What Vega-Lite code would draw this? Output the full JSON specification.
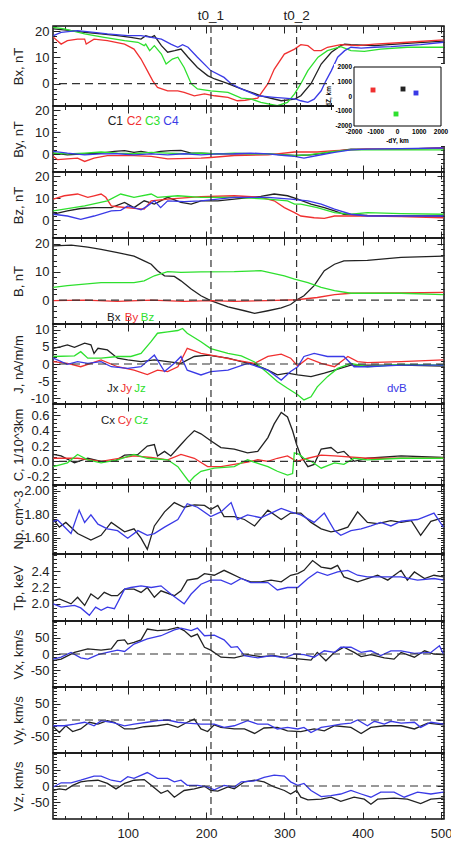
{
"$schema":"https://vega.github.io/schema/vega-lite/v6.json",
"background":"white",
"padding":{"left":11,"top":8,"right":0,"bottom":0},
"spacing":0,
"bounds":"flush",
"config":{
 "view":{"stroke":"#111","strokeWidth":1.5},
 "axis":{"domain":false,"grid":false,"tickColor":"#222","tickWidth":1,"labelFont":"Liberation Sans","labelFontSize":13,"labelColor":"#222","titleFont":"Liberation Sans","titleFontSize":13,"titleFontWeight":"normal","titleColor":"#222","labelOverlap":false,"labelFlush":false},
 "line":{"strokeWidth":1.3}
},
"datasets":{
"vl":[{"x":206.3},{"x":315.6}],
"txt":[
 {"p":"By","s":"C1","t":"C1","x":74.4,"y":15.2},{"p":"By","s":"C2","t":"C2","x":98.7,"y":15.2},{"p":"By","s":"C3","t":"C3","x":122,"y":15.2},{"p":"By","s":"C4","t":"C4","x":145.4,"y":15.2},
 {"p":"B","s":"Bx","t":"Bx","x":73.5,"y":-6.5},{"p":"B","s":"By","t":"By","x":96.2,"y":-6.5},{"p":"B","s":"Bz","t":"Bz","x":116.6,"y":-6.5},
 {"p":"J","s":"Jx","t":"Jx","x":73.5,"y":-7.4},{"p":"J","s":"Jy","t":"Jy","x":90.8,"y":-7.4},{"p":"J","s":"Jz","t":"Jz","x":108.2,"y":-7.4},{"p":"J","s":"dvB","t":"dvB","x":431,"y":-7.4},
 {"p":"C","s":"Cx","t":"Cx","x":65.9,"y":0.53},{"p":"C","s":"Cy","t":"Cy","x":87.2,"y":0.53},{"p":"C","s":"Cz","t":"Cz","x":108.4,"y":0.53}
],
"inset":[{"s":"C1","x":253,"y":508},{"s":"C2","x":-1126,"y":441},{"s":"C3","x":-69,"y":-1186},{"s":"C4","x":850,"y":237}],
"insetlab":[
 {"k":"x","t":"-2000","x":-2000,"y":-2000},{"k":"x","t":"-1000","x":-1000,"y":-2000},{"k":"x","t":"0","x":0,"y":-2000},{"k":"x","t":"1000","x":1000,"y":-2000},{"k":"x","t":"2000","x":2000,"y":-2000},
 {"k":"y","t":"2000","x":-2000,"y":2000},{"k":"y","t":"1000","x":-2000,"y":1000},{"k":"y","t":"0","x":-2000,"y":0},{"k":"y","t":"-1000","x":-2000,"y":-1000},{"k":"y","t":"-2000","x":-2000,"y":-2000},
 {"k":"xt","t":"-dY, km","x":0,"y":-2000},
 {"k":"yt","t":"dZ, km","x":-3150,"y":0}
],
"bx":[
{"s":"C1","x":5,"y":20.9},{"s":"C1","x":28,"y":20.2},{"s":"C1","x":45,"y":19.6},{"s":"C1","x":66,"y":19},{"s":"C1","x":87,"y":18.3},{"s":"C1","x":104,"y":17.7},{"s":"C1","x":117,"y":17},{"s":"C1","x":123,"y":18.3},{"s":"C1","x":130,"y":17.7},{"s":"C1","x":134,"y":18.3},{"s":"C1","x":143,"y":14.5},{"s":"C1","x":151,"y":12},{"s":"C1","x":160,"y":12.6},{"s":"C1","x":168,"y":13.2},{"s":"C1","x":177,"y":10.1},{"s":"C1","x":189,"y":6.2},{"s":"C1","x":202,"y":3.1},{"s":"C1","x":211,"y":1.8},{"s":"C1","x":228,"y":0},{"s":"C1","x":240,"y":-1.4},{"s":"C1","x":255,"y":-3},{"s":"C1","x":270,"y":-4.6},{"s":"C1","x":296,"y":-6.5},{"s":"C1","x":313,"y":-5.9},{"s":"C1","x":321,"y":-4.6},{"s":"C1","x":334,"y":0},{"s":"C1","x":347,"y":7.5},{"s":"C1","x":360,"y":12},{"s":"C1","x":372,"y":14.5},{"s":"C1","x":377,"y":15.1},{"s":"C1","x":385,"y":14.9},{"s":"C1","x":415,"y":14.5},{"s":"C1","x":457,"y":15.4},{"s":"C1","x":503,"y":16.2},
{"s":"C2","x":5,"y":17.7},{"s":"C2","x":15,"y":15.1},{"s":"C2","x":23,"y":16.4},{"s":"C2","x":36,"y":17},{"s":"C2","x":45,"y":17},{"s":"C2","x":47,"y":15.1},{"s":"C2","x":57,"y":17},{"s":"C2","x":74,"y":16.4},{"s":"C2","x":96,"y":15.1},{"s":"C2","x":108,"y":13.2},{"s":"C2","x":117,"y":9.4},{"s":"C2","x":125,"y":5},{"s":"C2","x":132,"y":1.1},{"s":"C2","x":138,"y":-1.4},{"s":"C2","x":151,"y":-2.7},{"s":"C2","x":164,"y":-2.7},{"s":"C2","x":172,"y":-3.3},{"s":"C2","x":185,"y":-4.6},{"s":"C2","x":198,"y":-3.9},{"s":"C2","x":211,"y":-4.6},{"s":"C2","x":228,"y":-5.2},{"s":"C2","x":240,"y":-6.5},{"s":"C2","x":250,"y":-6.3},{"s":"C2","x":266,"y":-5.5},{"s":"C2","x":279,"y":0},{"s":"C2","x":287,"y":5.5},{"s":"C2","x":300,"y":11.3},{"s":"C2","x":313,"y":13.2},{"s":"C2","x":321,"y":14.9},{"s":"C2","x":330,"y":14.5},{"s":"C2","x":338,"y":12.6},{"s":"C2","x":347,"y":12.6},{"s":"C2","x":355,"y":13.9},{"s":"C2","x":372,"y":14.9},{"s":"C2","x":394,"y":14.5},{"s":"C2","x":415,"y":15.1},{"s":"C2","x":457,"y":15.8},{"s":"C2","x":503,"y":16.7},
{"s":"C3","x":5,"y":21.5},{"s":"C3","x":19,"y":20.9},{"s":"C3","x":45,"y":19},{"s":"C3","x":70,"y":17.7},{"s":"C3","x":96,"y":16.4},{"s":"C3","x":113,"y":15.8},{"s":"C3","x":121,"y":14.5},{"s":"C3","x":123,"y":15.1},{"s":"C3","x":128,"y":12.6},{"s":"C3","x":134,"y":14.5},{"s":"C3","x":143,"y":11.3},{"s":"C3","x":149,"y":7.5},{"s":"C3","x":157,"y":9.4},{"s":"C3","x":164,"y":10.1},{"s":"C3","x":172,"y":6.2},{"s":"C3","x":181,"y":0},{"s":"C3","x":189,"y":-2},{"s":"C3","x":206,"y":-2.7},{"s":"C3","x":228,"y":-3.3},{"s":"C3","x":245,"y":-5.5},{"s":"C3","x":257,"y":-5.8},{"s":"C3","x":270,"y":-7.1},{"s":"C3","x":291,"y":-8.4},{"s":"C3","x":304,"y":-7.1},{"s":"C3","x":313,"y":-3.9},{"s":"C3","x":321,"y":0},{"s":"C3","x":330,"y":5},{"s":"C3","x":343,"y":10.1},{"s":"C3","x":355,"y":12.6},{"s":"C3","x":372,"y":14.1},{"s":"C3","x":385,"y":12.6},{"s":"C3","x":402,"y":12.3},{"s":"C3","x":423,"y":13.2},{"s":"C3","x":457,"y":13.9},{"s":"C3","x":503,"y":13.9},
{"s":"C4","x":5,"y":18.3},{"s":"C4","x":15,"y":19.6},{"s":"C4","x":36,"y":20.2},{"s":"C4","x":57,"y":19.6},{"s":"C4","x":74,"y":19},{"s":"C4","x":100,"y":18.3},{"s":"C4","x":117,"y":18.3},{"s":"C4","x":130,"y":17.7},{"s":"C4","x":143,"y":17},{"s":"C4","x":155,"y":15.1},{"s":"C4","x":164,"y":13.9},{"s":"C4","x":170,"y":14.9},{"s":"C4","x":177,"y":13.9},{"s":"C4","x":189,"y":10.1},{"s":"C4","x":206,"y":5},{"s":"C4","x":223,"y":2.4},{"s":"C4","x":232,"y":0},{"s":"C4","x":245,"y":-2},{"s":"C4","x":266,"y":-4.6},{"s":"C4","x":287,"y":-5.2},{"s":"C4","x":300,"y":-5.5},{"s":"C4","x":315,"y":-5.9},{"s":"C4","x":321,"y":-6.5},{"s":"C4","x":330,"y":-7.1},{"s":"C4","x":338,"y":-5.9},{"s":"C4","x":347,"y":-2.7},{"s":"C4","x":353,"y":1.1},{"s":"C4","x":360,"y":5},{"s":"C4","x":368,"y":10.1},{"s":"C4","x":377,"y":12.6},{"s":"C4","x":385,"y":13.9},{"s":"C4","x":398,"y":13.6},{"s":"C4","x":415,"y":13.9},{"s":"C4","x":436,"y":14.1},{"s":"C4","x":474,"y":14.9},{"s":"C4","x":503,"y":15.8}
],
"by":[
{"s":"C1","x":5,"y":0.6},{"s":"C1","x":23,"y":-0.2},{"s":"C1","x":45,"y":0.2},{"s":"C1","x":66,"y":0.6},{"s":"C1","x":83,"y":1.4},{"s":"C1","x":96,"y":1.7},{"s":"C1","x":108,"y":0.9},{"s":"C1","x":117,"y":1.4},{"s":"C1","x":130,"y":0.6},{"s":"C1","x":142,"y":1.4},{"s":"C1","x":155,"y":1.7},{"s":"C1","x":168,"y":1.8},{"s":"C1","x":181,"y":0.6},{"s":"C1","x":193.5,"y":0.6},{"s":"C1","x":215,"y":0.2},{"s":"C1","x":236,"y":0.2},{"s":"C1","x":279,"y":0.2},{"s":"C1","x":300,"y":-0.2},{"s":"C1","x":313,"y":-0.5},{"s":"C1","x":334,"y":-0.2},{"s":"C1","x":351,"y":0.6},{"s":"C1","x":364,"y":1.4},{"s":"C1","x":385,"y":2.4},{"s":"C1","x":449,"y":2.4},{"s":"C1","x":503,"y":2.9},
{"s":"C2","x":5,"y":-0.9},{"s":"C2","x":10.5,"y":-2.4},{"s":"C2","x":23,"y":-2},{"s":"C2","x":36,"y":-1.7},{"s":"C2","x":45,"y":-3.2},{"s":"C2","x":57,"y":-1.7},{"s":"C2","x":74,"y":-0.6},{"s":"C2","x":108,"y":-0.6},{"s":"C2","x":130,"y":-0.9},{"s":"C2","x":151,"y":-2},{"s":"C2","x":193.5,"y":-1.7},{"s":"C2","x":206,"y":-1.4},{"s":"C2","x":236,"y":-0.5},{"s":"C2","x":279,"y":-0.2},{"s":"C2","x":313,"y":1.1},{"s":"C2","x":342,"y":1.1},{"s":"C2","x":364,"y":1.7},{"s":"C2","x":385,"y":2.1},{"s":"C2","x":406,"y":2.4},{"s":"C2","x":449,"y":2.4},{"s":"C2","x":503,"y":2.9},
{"s":"C3","x":5,"y":0.6},{"s":"C3","x":23,"y":0.2},{"s":"C3","x":45,"y":0.6},{"s":"C3","x":66,"y":1.1},{"s":"C3","x":87,"y":0.6},{"s":"C3","x":108,"y":0.3},{"s":"C3","x":130,"y":0.9},{"s":"C3","x":151,"y":0.6},{"s":"C3","x":172,"y":0.3},{"s":"C3","x":193.5,"y":0.6},{"s":"C3","x":215,"y":0.2},{"s":"C3","x":236,"y":0.6},{"s":"C3","x":257,"y":0.3},{"s":"C3","x":279,"y":0.2},{"s":"C3","x":300,"y":-0.2},{"s":"C3","x":313,"y":-0.6},{"s":"C3","x":330,"y":-0.2},{"s":"C3","x":347,"y":0.6},{"s":"C3","x":364,"y":1.4},{"s":"C3","x":385,"y":2.1},{"s":"C3","x":406,"y":2.1},{"s":"C3","x":449,"y":2.1},{"s":"C3","x":503,"y":2.1},
{"s":"C4","x":5,"y":1.4},{"s":"C4","x":23,"y":0.6},{"s":"C4","x":45,"y":-0.2},{"s":"C4","x":66,"y":0.2},{"s":"C4","x":87,"y":0.3},{"s":"C4","x":108,"y":-0.2},{"s":"C4","x":130,"y":0.2},{"s":"C4","x":151,"y":-0.2},{"s":"C4","x":172,"y":0.3},{"s":"C4","x":193.5,"y":-0.2},{"s":"C4","x":215,"y":0.2},{"s":"C4","x":236,"y":0.3},{"s":"C4","x":257,"y":0.6},{"s":"C4","x":279,"y":0.2},{"s":"C4","x":300,"y":-0.5},{"s":"C4","x":313,"y":-0.9},{"s":"C4","x":325,"y":-1.7},{"s":"C4","x":342,"y":-0.5},{"s":"C4","x":364,"y":0.9},{"s":"C4","x":385,"y":2.1},{"s":"C4","x":406,"y":2.4},{"s":"C4","x":449,"y":2.6},{"s":"C4","x":503,"y":2.9}
],
"bz":[
{"s":"C1","x":5,"y":2.8},{"s":"C1","x":23,"y":4.3},{"s":"C1","x":40,"y":5.4},{"s":"C1","x":57,"y":5.8},{"s":"C1","x":79,"y":5.8},{"s":"C1","x":96,"y":8.2},{"s":"C1","x":108,"y":5.8},{"s":"C1","x":121,"y":8.9},{"s":"C1","x":134,"y":7.4},{"s":"C1","x":151,"y":10.5},{"s":"C1","x":168,"y":8.2},{"s":"C1","x":181,"y":7.4},{"s":"C1","x":193.5,"y":8.9},{"s":"C1","x":215,"y":8.9},{"s":"C1","x":236,"y":9.7},{"s":"C1","x":270,"y":10.9},{"s":"C1","x":287,"y":12},{"s":"C1","x":304,"y":11.2},{"s":"C1","x":317,"y":9.7},{"s":"C1","x":334,"y":7.4},{"s":"C1","x":351,"y":5.8},{"s":"C1","x":364,"y":4.3},{"s":"C1","x":376,"y":2.8},{"s":"C1","x":406,"y":2.3},{"s":"C1","x":449,"y":2},{"s":"C1","x":503,"y":2},
{"s":"C2","x":5,"y":9.7},{"s":"C2","x":19,"y":11.2},{"s":"C2","x":36,"y":12},{"s":"C2","x":49,"y":10.5},{"s":"C2","x":57,"y":11.2},{"s":"C2","x":66,"y":12},{"s":"C2","x":72,"y":10.5},{"s":"C2","x":79,"y":6.6},{"s":"C2","x":87,"y":6.2},{"s":"C2","x":108,"y":5.5},{"s":"C2","x":121,"y":5.1},{"s":"C2","x":130,"y":8.9},{"s":"C2","x":151,"y":9.7},{"s":"C2","x":193.5,"y":10.8},{"s":"C2","x":236,"y":11.2},{"s":"C2","x":270,"y":10.5},{"s":"C2","x":287,"y":8.9},{"s":"C2","x":300,"y":5.8},{"s":"C2","x":313,"y":3.5},{"s":"C2","x":321,"y":2},{"s":"C2","x":338,"y":1.2},{"s":"C2","x":351,"y":0.9},{"s":"C2","x":364,"y":2},{"s":"C2","x":406,"y":2},{"s":"C2","x":449,"y":1.7},{"s":"C2","x":503,"y":1.2},
{"s":"C3","x":5,"y":4.3},{"s":"C3","x":45,"y":6.6},{"s":"C3","x":74,"y":8.9},{"s":"C3","x":91,"y":12},{"s":"C3","x":108,"y":10.5},{"s":"C3","x":130,"y":12},{"s":"C3","x":138,"y":10.5},{"s":"C3","x":164,"y":11.2},{"s":"C3","x":193.5,"y":10.5},{"s":"C3","x":236,"y":10.5},{"s":"C3","x":279,"y":9.7},{"s":"C3","x":304,"y":8.9},{"s":"C3","x":313,"y":7.4},{"s":"C3","x":321,"y":7.4},{"s":"C3","x":342,"y":5.8},{"s":"C3","x":364,"y":3.5},{"s":"C3","x":385,"y":2.8},{"s":"C3","x":406,"y":3.5},{"s":"C3","x":449,"y":3.1},{"s":"C3","x":503,"y":2.8},
{"s":"C4","x":5,"y":2.8},{"s":"C4","x":23,"y":2},{"s":"C4","x":40,"y":0.5},{"s":"C4","x":57,"y":2},{"s":"C4","x":79,"y":4.3},{"s":"C4","x":91,"y":4.6},{"s":"C4","x":100,"y":6.6},{"s":"C4","x":117,"y":4.8},{"s":"C4","x":125,"y":6.5},{"s":"C4","x":134,"y":8.9},{"s":"C4","x":142,"y":5.8},{"s":"C4","x":151,"y":8.9},{"s":"C4","x":172,"y":8.5},{"s":"C4","x":193.5,"y":8.9},{"s":"C4","x":236,"y":10.5},{"s":"C4","x":279,"y":10.5},{"s":"C4","x":308,"y":9.7},{"s":"C4","x":330,"y":8.9},{"s":"C4","x":347,"y":7.4},{"s":"C4","x":364,"y":5.1},{"s":"C4","x":385,"y":2.8},{"s":"C4","x":406,"y":2},{"s":"C4","x":503,"y":2}
],
"bb":[
{"s":"Bx","x":5,"y":19.2},{"s":"Bx","x":28,"y":19.5},{"s":"Bx","x":49,"y":18.8},{"s":"Bx","x":66,"y":18},{"s":"Bx","x":87,"y":16.8},{"s":"Bx","x":108,"y":15.6},{"s":"Bx","x":121,"y":13.9},{"s":"Bx","x":130,"y":12.7},{"s":"Bx","x":138,"y":10.4},{"s":"Bx","x":147,"y":8.6},{"s":"Bx","x":159.5,"y":8.4},{"s":"Bx","x":168,"y":6.8},{"s":"Bx","x":181,"y":3.9},{"s":"Bx","x":193.5,"y":1.5},{"s":"Bx","x":206,"y":-0.2},{"s":"Bx","x":228,"y":-2.4},{"s":"Bx","x":249,"y":-3.8},{"s":"Bx","x":262,"y":-4.7},{"s":"Bx","x":279,"y":-3.8},{"s":"Bx","x":296,"y":-2.8},{"s":"Bx","x":308,"y":-1.6},{"s":"Bx","x":315.6,"y":0},{"s":"Bx","x":325,"y":1.5},{"s":"Bx","x":338,"y":5.1},{"s":"Bx","x":351,"y":10.4},{"s":"Bx","x":364,"y":12.7},{"s":"Bx","x":376,"y":13.9},{"s":"Bx","x":406,"y":14.1},{"s":"Bx","x":449,"y":15.1},{"s":"Bx","x":503,"y":15.6},
{"s":"By","x":5,"y":-0.2},{"s":"By","x":45,"y":0},{"s":"By","x":87,"y":-0.5},{"s":"By","x":130,"y":0},{"s":"By","x":172,"y":-0.5},{"s":"By","x":206,"y":-0.2},{"s":"By","x":236,"y":-0.5},{"s":"By","x":279,"y":-0.2},{"s":"By","x":315.6,"y":0.1},{"s":"By","x":342,"y":0.9},{"s":"By","x":364,"y":1.9},{"s":"By","x":385,"y":2.4},{"s":"By","x":449,"y":2.5},{"s":"By","x":503,"y":2.7},
{"s":"Bz","x":5,"y":4.5},{"s":"Bz","x":23,"y":5.1},{"s":"Bz","x":66,"y":6.2},{"s":"Bz","x":108,"y":6.2},{"s":"Bz","x":121,"y":6.8},{"s":"Bz","x":134,"y":8.6},{"s":"Bz","x":151,"y":10.1},{"s":"Bz","x":168,"y":9.8},{"s":"Bz","x":193.5,"y":10},{"s":"Bz","x":236,"y":10.1},{"s":"Bz","x":270,"y":10.4},{"s":"Bz","x":300,"y":8.6},{"s":"Bz","x":313,"y":7.4},{"s":"Bz","x":330,"y":6.2},{"s":"Bz","x":347,"y":4.5},{"s":"Bz","x":364,"y":3.3},{"s":"Bz","x":385,"y":2.4},{"s":"Bz","x":406,"y":2.4},{"s":"Bz","x":449,"y":2.4},{"s":"Bz","x":503,"y":1.9}
],
"jj":[
{"s":"Jx","x":5,"y":4.6},{"s":"Jx","x":15,"y":5.1},{"s":"Jx","x":23,"y":5.6},{"s":"Jx","x":32,"y":4.9},{"s":"Jx","x":45,"y":6.1},{"s":"Jx","x":53,"y":5.6},{"s":"Jx","x":57,"y":3.1},{"s":"Jx","x":62,"y":4.6},{"s":"Jx","x":74,"y":4.1},{"s":"Jx","x":87,"y":1.7},{"s":"Jx","x":100,"y":1.2},{"s":"Jx","x":117,"y":0.7},{"s":"Jx","x":134,"y":1.2},{"s":"Jx","x":151,"y":0.7},{"s":"Jx","x":168,"y":0.2},{"s":"Jx","x":185,"y":2.2},{"s":"Jx","x":202,"y":2.6},{"s":"Jx","x":228,"y":1.7},{"s":"Jx","x":245,"y":0.7},{"s":"Jx","x":262,"y":-0.1},{"s":"Jx","x":279,"y":-1.8},{"s":"Jx","x":291,"y":-3.2},{"s":"Jx","x":304,"y":-2.7},{"s":"Jx","x":317,"y":-3.2},{"s":"Jx","x":334,"y":-3.7},{"s":"Jx","x":351,"y":-2.7},{"s":"Jx","x":364,"y":-1.8},{"s":"Jx","x":385,"y":-0.3},{"s":"Jx","x":406,"y":-0.3},{"s":"Jx","x":449,"y":-0.3},{"s":"Jx","x":503,"y":-0.6},
{"s":"Jy","x":5,"y":0.7},{"s":"Jy","x":23,"y":0.2},{"s":"Jy","x":40,"y":-0.8},{"s":"Jy","x":66,"y":1.2},{"s":"Jy","x":87,"y":-0.8},{"s":"Jy","x":108,"y":-1.8},{"s":"Jy","x":125,"y":-3.1},{"s":"Jy","x":138,"y":-1.8},{"s":"Jy","x":151,"y":-2.2},{"s":"Jy","x":164,"y":-0.8},{"s":"Jy","x":176,"y":4.6},{"s":"Jy","x":193.5,"y":3.1},{"s":"Jy","x":215,"y":2.2},{"s":"Jy","x":236,"y":1.2},{"s":"Jy","x":262,"y":0.2},{"s":"Jy","x":279,"y":2.2},{"s":"Jy","x":296,"y":2.9},{"s":"Jy","x":308,"y":1.7},{"s":"Jy","x":317,"y":-0.6},{"s":"Jy","x":330,"y":1.7},{"s":"Jy","x":347,"y":0.2},{"s":"Jy","x":364,"y":-0.8},{"s":"Jy","x":381,"y":2.2},{"s":"Jy","x":393.5,"y":0.7},{"s":"Jy","x":406,"y":0.4},{"s":"Jy","x":449,"y":0.7},{"s":"Jy","x":503,"y":1.2},
{"s":"Jz","x":5,"y":2.2},{"s":"Jz","x":32,"y":2.4},{"s":"Jz","x":40,"y":3.6},{"s":"Jz","x":49,"y":1.7},{"s":"Jz","x":66,"y":1.7},{"s":"Jz","x":87,"y":2.2},{"s":"Jz","x":104,"y":2.2},{"s":"Jz","x":117,"y":3.1},{"s":"Jz","x":130,"y":6.6},{"s":"Jz","x":138,"y":9},{"s":"Jz","x":151,"y":9.4},{"s":"Jz","x":164,"y":9.8},{"s":"Jz","x":170,"y":10.4},{"s":"Jz","x":176,"y":9},{"s":"Jz","x":193.5,"y":6.5},{"s":"Jz","x":206,"y":4.5},{"s":"Jz","x":228,"y":3.1},{"s":"Jz","x":245,"y":2.4},{"s":"Jz","x":262,"y":0.6},{"s":"Jz","x":279,"y":-2.7},{"s":"Jz","x":291,"y":-5.1},{"s":"Jz","x":304,"y":-7.1},{"s":"Jz","x":317,"y":-9},{"s":"Jz","x":325,"y":-10.5},{"s":"Jz","x":334,"y":-9.6},{"s":"Jz","x":342,"y":-6.7},{"s":"Jz","x":355,"y":-3.7},{"s":"Jz","x":368,"y":-1.3},{"s":"Jz","x":385,"y":0.2},{"s":"Jz","x":406,"y":-0.8},{"s":"Jz","x":449,"y":-0.1},{"s":"Jz","x":503,"y":-0.3},
{"s":"dvB","x":5,"y":1.7},{"s":"dvB","x":23,"y":-0.1},{"s":"dvB","x":36,"y":0.7},{"s":"dvB","x":49,"y":0.2},{"s":"dvB","x":66,"y":0.7},{"s":"dvB","x":79,"y":-0.8},{"s":"dvB","x":100,"y":-1.3},{"s":"dvB","x":117,"y":-0.8},{"s":"dvB","x":134,"y":2.6},{"s":"dvB","x":147,"y":-2.2},{"s":"dvB","x":159.5,"y":0.2},{"s":"dvB","x":168,"y":2.2},{"s":"dvB","x":176,"y":-1.8},{"s":"dvB","x":193.5,"y":-3.2},{"s":"dvB","x":206,"y":-2.2},{"s":"dvB","x":228,"y":-1.8},{"s":"dvB","x":253,"y":0.2},{"s":"dvB","x":279,"y":-1.8},{"s":"dvB","x":296,"y":-4.7},{"s":"dvB","x":308,"y":-2.2},{"s":"dvB","x":317,"y":-0.8},{"s":"dvB","x":325,"y":2.2},{"s":"dvB","x":338,"y":3.1},{"s":"dvB","x":355,"y":2.2},{"s":"dvB","x":376,"y":2.2},{"s":"dvB","x":389,"y":-0.8},{"s":"dvB","x":406,"y":-0.8},{"s":"dvB","x":449,"y":-0.3},{"s":"dvB","x":503,"y":-0.3}
],
"cc":[
{"s":"Cx","x":5,"y":0.09},{"s":"Cx","x":15,"y":0.07},{"s":"Cx","x":32,"y":-0.02},{"s":"Cx","x":49,"y":0.04},{"s":"Cx","x":66,"y":0},{"s":"Cx","x":83,"y":0},{"s":"Cx","x":96,"y":0.08},{"s":"Cx","x":113,"y":0.09},{"s":"Cx","x":125,"y":0.2},{"s":"Cx","x":134,"y":0.22},{"s":"Cx","x":138,"y":0.07},{"s":"Cx","x":147,"y":0.13},{"s":"Cx","x":155,"y":0.07},{"s":"Cx","x":168,"y":0.22},{"s":"Cx","x":176,"y":0.31},{"s":"Cx","x":185,"y":0.4},{"s":"Cx","x":193.5,"y":0.36},{"s":"Cx","x":206,"y":0.27},{"s":"Cx","x":219,"y":0.18},{"s":"Cx","x":236,"y":0.16},{"s":"Cx","x":253,"y":0.11},{"s":"Cx","x":266,"y":0.13},{"s":"Cx","x":279,"y":0.31},{"s":"Cx","x":287,"y":0.49},{"s":"Cx","x":296,"y":0.64},{"s":"Cx","x":304,"y":0.58},{"s":"Cx","x":310.5,"y":0.4},{"s":"Cx","x":315.6,"y":0.22},{"s":"Cx","x":321,"y":0.07},{"s":"Cx","x":330,"y":-0.07},{"s":"Cx","x":338,"y":-0.04},{"s":"Cx","x":347,"y":0.16},{"s":"Cx","x":359.5,"y":0.18},{"s":"Cx","x":368,"y":0.11},{"s":"Cx","x":376,"y":0.13},{"s":"Cx","x":389,"y":0},{"s":"Cx","x":406,"y":0.04},{"s":"Cx","x":449,"y":0.07},{"s":"Cx","x":503,"y":0.05},
{"s":"Cy","x":5,"y":0.04},{"s":"Cy","x":36,"y":0.04},{"s":"Cy","x":66,"y":0},{"s":"Cy","x":108,"y":0.07},{"s":"Cy","x":130,"y":0.05},{"s":"Cy","x":151,"y":0.02},{"s":"Cy","x":168,"y":0.09},{"s":"Cy","x":185,"y":0.04},{"s":"Cy","x":202,"y":-0.07},{"s":"Cy","x":219,"y":-0.07},{"s":"Cy","x":236,"y":-0.04},{"s":"Cy","x":253,"y":-0.01},{"s":"Cy","x":266,"y":0.02},{"s":"Cy","x":279,"y":0},{"s":"Cy","x":291,"y":0.04},{"s":"Cy","x":304,"y":0.07},{"s":"Cy","x":315.6,"y":0},{"s":"Cy","x":330,"y":0.04},{"s":"Cy","x":347,"y":0.08},{"s":"Cy","x":364,"y":0.07},{"s":"Cy","x":406,"y":0.04},{"s":"Cy","x":503,"y":0.04},
{"s":"Cz","x":5,"y":-0.07},{"s":"Cz","x":23,"y":-0.02},{"s":"Cz","x":36,"y":0.09},{"s":"Cz","x":49,"y":0.02},{"s":"Cz","x":66,"y":-0.02},{"s":"Cz","x":87,"y":0.02},{"s":"Cz","x":108,"y":0.09},{"s":"Cz","x":125,"y":0.04},{"s":"Cz","x":151,"y":0.02},{"s":"Cz","x":164,"y":-0.07},{"s":"Cz","x":172,"y":-0.18},{"s":"Cz","x":178.6,"y":-0.27},{"s":"Cz","x":185,"y":-0.2},{"s":"Cz","x":193.5,"y":-0.13},{"s":"Cz","x":210.5,"y":-0.09},{"s":"Cz","x":236,"y":-0.07},{"s":"Cz","x":253,"y":0.02},{"s":"Cz","x":270,"y":-0.04},{"s":"Cz","x":279,"y":-0.07},{"s":"Cz","x":291,"y":-0.13},{"s":"Cz","x":304,"y":-0.18},{"s":"Cz","x":310.5,"y":-0.16},{"s":"Cz","x":312.7,"y":0.11},{"s":"Cz","x":319,"y":0.09},{"s":"Cz","x":325,"y":0.04},{"s":"Cz","x":334,"y":0},{"s":"Cz","x":347,"y":-0.09},{"s":"Cz","x":364,"y":-0.02},{"s":"Cz","x":376,"y":-0.04},{"s":"Cz","x":389,"y":0.04},{"s":"Cz","x":406,"y":0.02},{"s":"Cz","x":449,"y":0.04},{"s":"Cz","x":503,"y":0.04}
],
"np":[
{"s":"C1","x":5,"y":1.755},{"s":"C1","x":12.7,"y":1.69},{"s":"C1","x":21,"y":1.73},{"s":"C1","x":36,"y":1.635},{"s":"C1","x":53,"y":1.58},{"s":"C1","x":66,"y":1.62},{"s":"C1","x":79,"y":1.73},{"s":"C1","x":96,"y":1.65},{"s":"C1","x":108,"y":1.675},{"s":"C1","x":117,"y":1.595},{"s":"C1","x":125,"y":1.5},{"s":"C1","x":134,"y":1.7},{"s":"C1","x":147,"y":1.82},{"s":"C1","x":159.5,"y":1.9},{"s":"C1","x":172,"y":1.86},{"s":"C1","x":185,"y":1.88},{"s":"C1","x":198,"y":1.875},{"s":"C1","x":206,"y":1.84},{"s":"C1","x":215,"y":1.875},{"s":"C1","x":223,"y":1.78},{"s":"C1","x":236,"y":1.78},{"s":"C1","x":249,"y":1.755},{"s":"C1","x":262,"y":1.7},{"s":"C1","x":279,"y":1.835},{"s":"C1","x":296,"y":1.755},{"s":"C1","x":308,"y":1.81},{"s":"C1","x":321,"y":1.81},{"s":"C1","x":334,"y":1.73},{"s":"C1","x":347,"y":1.675},{"s":"C1","x":359.5,"y":1.65},{"s":"C1","x":368,"y":1.66},{"s":"C1","x":381,"y":1.69},{"s":"C1","x":393.5,"y":1.82},{"s":"C1","x":406,"y":1.73},{"s":"C1","x":419,"y":1.72},{"s":"C1","x":436,"y":1.745},{"s":"C1","x":449,"y":1.73},{"s":"C1","x":462,"y":1.745},{"s":"C1","x":474,"y":1.62},{"s":"C1","x":487,"y":1.74},{"s":"C1","x":503,"y":1.77},
{"s":"C4","x":5,"y":1.74},{"s":"C4","x":10.5,"y":1.75},{"s":"C4","x":27.6,"y":1.635},{"s":"C4","x":38,"y":1.835},{"s":"C4","x":45,"y":1.73},{"s":"C4","x":53,"y":1.795},{"s":"C4","x":62,"y":1.715},{"s":"C4","x":74,"y":1.675},{"s":"C4","x":87,"y":1.66},{"s":"C4","x":100,"y":1.595},{"s":"C4","x":113,"y":1.66},{"s":"C4","x":125,"y":1.62},{"s":"C4","x":134,"y":1.635},{"s":"C4","x":147,"y":1.69},{"s":"C4","x":164,"y":1.755},{"s":"C4","x":176,"y":1.89},{"s":"C4","x":189,"y":1.86},{"s":"C4","x":206,"y":1.78},{"s":"C4","x":219,"y":1.82},{"s":"C4","x":232,"y":1.9},{"s":"C4","x":240,"y":1.755},{"s":"C4","x":253,"y":1.795},{"s":"C4","x":270,"y":1.77},{"s":"C4","x":283,"y":1.81},{"s":"C4","x":296,"y":1.85},{"s":"C4","x":308,"y":1.82},{"s":"C4","x":321,"y":1.795},{"s":"C4","x":338,"y":1.73},{"s":"C4","x":351,"y":1.81},{"s":"C4","x":364,"y":1.66},{"s":"C4","x":372,"y":1.62},{"s":"C4","x":385,"y":1.66},{"s":"C4","x":398,"y":1.675},{"s":"C4","x":410.5,"y":1.7},{"s":"C4","x":423,"y":1.73},{"s":"C4","x":436,"y":1.7},{"s":"C4","x":449,"y":1.74},{"s":"C4","x":470,"y":1.755},{"s":"C4","x":491,"y":1.81},{"s":"C4","x":503,"y":1.69}
],
"tp":[
{"s":"C1","x":5,"y":2.04},{"s":"C1","x":12.7,"y":2.06},{"s":"C1","x":27.6,"y":2},{"s":"C1","x":36,"y":2.08},{"s":"C1","x":45,"y":1.98},{"s":"C1","x":53,"y":2.12},{"s":"C1","x":62,"y":2.06},{"s":"C1","x":70,"y":2.14},{"s":"C1","x":79,"y":2.1},{"s":"C1","x":87,"y":2.1},{"s":"C1","x":96,"y":2.18},{"s":"C1","x":108,"y":2.18},{"s":"C1","x":117,"y":2.14},{"s":"C1","x":125,"y":2.2},{"s":"C1","x":134,"y":2.08},{"s":"C1","x":142.5,"y":2.16},{"s":"C1","x":159.5,"y":2.1},{"s":"C1","x":168,"y":2.16},{"s":"C1","x":176,"y":2.29},{"s":"C1","x":189,"y":2.31},{"s":"C1","x":198,"y":2.37},{"s":"C1","x":210.5,"y":2.35},{"s":"C1","x":223,"y":2.41},{"s":"C1","x":232,"y":2.37},{"s":"C1","x":245,"y":2.31},{"s":"C1","x":257,"y":2.27},{"s":"C1","x":270,"y":2.27},{"s":"C1","x":283,"y":2.29},{"s":"C1","x":296,"y":2.27},{"s":"C1","x":308,"y":2.35},{"s":"C1","x":317,"y":2.37},{"s":"C1","x":325,"y":2.41},{"s":"C1","x":336,"y":2.53},{"s":"C1","x":347,"y":2.45},{"s":"C1","x":359.5,"y":2.43},{"s":"C1","x":368,"y":2.47},{"s":"C1","x":376,"y":2.33},{"s":"C1","x":393.5,"y":2.27},{"s":"C1","x":406,"y":2.31},{"s":"C1","x":419,"y":2.35},{"s":"C1","x":432,"y":2.29},{"s":"C1","x":449,"y":2.41},{"s":"C1","x":457,"y":2.29},{"s":"C1","x":466,"y":2.39},{"s":"C1","x":479,"y":2.31},{"s":"C1","x":491,"y":2.35},{"s":"C1","x":503,"y":2.33},
{"s":"C4","x":5,"y":2},{"s":"C4","x":15,"y":1.96},{"s":"C4","x":32,"y":1.98},{"s":"C4","x":40,"y":1.95},{"s":"C4","x":51,"y":1.86},{"s":"C4","x":59,"y":1.96},{"s":"C4","x":66,"y":1.92},{"s":"C4","x":74,"y":1.96},{"s":"C4","x":83,"y":1.94},{"s":"C4","x":96,"y":2.18},{"s":"C4","x":104,"y":2.2},{"s":"C4","x":117,"y":2.22},{"s":"C4","x":130,"y":2.2},{"s":"C4","x":142.5,"y":2.22},{"s":"C4","x":155,"y":2.12},{"s":"C4","x":172,"y":2},{"s":"C4","x":181,"y":2.12},{"s":"C4","x":193.5,"y":2.24},{"s":"C4","x":206,"y":2.29},{"s":"C4","x":219,"y":2.29},{"s":"C4","x":232,"y":2.24},{"s":"C4","x":245,"y":2.31},{"s":"C4","x":257,"y":2.26},{"s":"C4","x":279,"y":2.26},{"s":"C4","x":291,"y":2.17},{"s":"C4","x":304,"y":2.2},{"s":"C4","x":317,"y":2.2},{"s":"C4","x":330,"y":2.31},{"s":"C4","x":342,"y":2.39},{"s":"C4","x":355,"y":2.35},{"s":"C4","x":368,"y":2.39},{"s":"C4","x":381,"y":2.41},{"s":"C4","x":393.5,"y":2.35},{"s":"C4","x":406,"y":2.33},{"s":"C4","x":427.6,"y":2.33},{"s":"C4","x":449,"y":2.33},{"s":"C4","x":470,"y":2.29},{"s":"C4","x":491,"y":2.31},{"s":"C4","x":503,"y":2.29}
],
"vx":[
{"s":"C1","x":5,"y":-21},{"s":"C1","x":15,"y":-16},{"s":"C1","x":32,"y":5},{"s":"C1","x":49,"y":16},{"s":"C1","x":66,"y":12},{"s":"C1","x":79,"y":16},{"s":"C1","x":87,"y":42},{"s":"C1","x":96,"y":44},{"s":"C1","x":100,"y":31},{"s":"C1","x":108,"y":36},{"s":"C1","x":117,"y":44},{"s":"C1","x":125,"y":78},{"s":"C1","x":138,"y":73},{"s":"C1","x":151,"y":75},{"s":"C1","x":164,"y":83},{"s":"C1","x":172,"y":73},{"s":"C1","x":181,"y":54},{"s":"C1","x":189,"y":62},{"s":"C1","x":198,"y":21},{"s":"C1","x":206,"y":12},{"s":"C1","x":219,"y":-10},{"s":"C1","x":236,"y":-12},{"s":"C1","x":253,"y":-2},{"s":"C1","x":270,"y":-8},{"s":"C1","x":287,"y":-5},{"s":"C1","x":304,"y":-12},{"s":"C1","x":321,"y":-16},{"s":"C1","x":334,"y":-19},{"s":"C1","x":342,"y":5},{"s":"C1","x":353,"y":-21},{"s":"C1","x":364,"y":5},{"s":"C1","x":376,"y":21},{"s":"C1","x":389,"y":5},{"s":"C1","x":398,"y":-8},{"s":"C1","x":410.5,"y":-2},{"s":"C1","x":427.6,"y":-12},{"s":"C1","x":440,"y":-16},{"s":"C1","x":449,"y":5},{"s":"C1","x":466,"y":-10},{"s":"C1","x":479,"y":10},{"s":"C1","x":491,"y":0},{"s":"C1","x":503,"y":-2},
{"s":"C4","x":5,"y":-16},{"s":"C4","x":15,"y":-10},{"s":"C4","x":27.6,"y":5},{"s":"C4","x":40,"y":-12},{"s":"C4","x":49,"y":-16},{"s":"C4","x":62,"y":-2},{"s":"C4","x":74,"y":5},{"s":"C4","x":87,"y":12},{"s":"C4","x":96,"y":8},{"s":"C4","x":108,"y":31},{"s":"C4","x":125,"y":47},{"s":"C4","x":142.5,"y":57},{"s":"C4","x":159.5,"y":75},{"s":"C4","x":168,"y":81},{"s":"C4","x":181,"y":73},{"s":"C4","x":189,"y":81},{"s":"C4","x":198,"y":57},{"s":"C4","x":210.5,"y":59},{"s":"C4","x":223,"y":44},{"s":"C4","x":232,"y":21},{"s":"C4","x":240,"y":23},{"s":"C4","x":249,"y":-5},{"s":"C4","x":266,"y":-12},{"s":"C4","x":283,"y":-5},{"s":"C4","x":300,"y":-12},{"s":"C4","x":313,"y":0},{"s":"C4","x":325,"y":-2},{"s":"C4","x":338,"y":-10},{"s":"C4","x":351,"y":10},{"s":"C4","x":364,"y":5},{"s":"C4","x":372,"y":21},{"s":"C4","x":385,"y":21},{"s":"C4","x":398,"y":5},{"s":"C4","x":410.5,"y":10},{"s":"C4","x":423,"y":-5},{"s":"C4","x":436,"y":10},{"s":"C4","x":449,"y":10},{"s":"C4","x":466,"y":2},{"s":"C4","x":487,"y":5},{"s":"C4","x":498,"y":26},{"s":"C4","x":503,"y":0}
],
"vy":[
{"s":"C1","x":5,"y":-21},{"s":"C1","x":12.7,"y":-39},{"s":"C1","x":21,"y":-18},{"s":"C1","x":29.7,"y":-36},{"s":"C1","x":40,"y":-28},{"s":"C1","x":51,"y":-7},{"s":"C1","x":62,"y":-13},{"s":"C1","x":74,"y":-2},{"s":"C1","x":83,"y":-7},{"s":"C1","x":96,"y":-28},{"s":"C1","x":108,"y":-28},{"s":"C1","x":121,"y":-21},{"s":"C1","x":138,"y":-18},{"s":"C1","x":151,"y":-13},{"s":"C1","x":164,"y":-23},{"s":"C1","x":176,"y":-7},{"s":"C1","x":185,"y":3},{"s":"C1","x":193.5,"y":-28},{"s":"C1","x":202,"y":-36},{"s":"C1","x":210.5,"y":-15},{"s":"C1","x":219,"y":-23},{"s":"C1","x":236,"y":-28},{"s":"C1","x":249,"y":-28},{"s":"C1","x":262,"y":-42},{"s":"C1","x":274,"y":-25},{"s":"C1","x":291,"y":-23},{"s":"C1","x":304,"y":-34},{"s":"C1","x":321,"y":-36},{"s":"C1","x":338,"y":-28},{"s":"C1","x":351,"y":-34},{"s":"C1","x":364,"y":-18},{"s":"C1","x":385,"y":-23},{"s":"C1","x":398,"y":-42},{"s":"C1","x":410.5,"y":-23},{"s":"C1","x":427.6,"y":-18},{"s":"C1","x":449,"y":-18},{"s":"C1","x":466,"y":-28},{"s":"C1","x":483,"y":-10},{"s":"C1","x":503,"y":-15},
{"s":"C4","x":5,"y":-18},{"s":"C4","x":19,"y":-18},{"s":"C4","x":32,"y":-13},{"s":"C4","x":45,"y":-7},{"s":"C4","x":57,"y":-18},{"s":"C4","x":66,"y":-2},{"s":"C4","x":79,"y":-7},{"s":"C4","x":96,"y":-18},{"s":"C4","x":108,"y":-13},{"s":"C4","x":125,"y":-7},{"s":"C4","x":138,"y":-2},{"s":"C4","x":151,"y":0},{"s":"C4","x":164,"y":-7},{"s":"C4","x":176,"y":-10},{"s":"C4","x":193.5,"y":-13},{"s":"C4","x":210.5,"y":-13},{"s":"C4","x":223,"y":-23},{"s":"C4","x":236,"y":-18},{"s":"C4","x":253,"y":-2},{"s":"C4","x":266,"y":-13},{"s":"C4","x":279,"y":-13},{"s":"C4","x":291,"y":-28},{"s":"C4","x":304,"y":-23},{"s":"C4","x":317,"y":-28},{"s":"C4","x":325,"y":-23},{"s":"C4","x":334,"y":-39},{"s":"C4","x":347,"y":-23},{"s":"C4","x":359.5,"y":-18},{"s":"C4","x":372,"y":-13},{"s":"C4","x":385,"y":-10},{"s":"C4","x":393.5,"y":0},{"s":"C4","x":406,"y":-18},{"s":"C4","x":415,"y":-4},{"s":"C4","x":427.6,"y":-13},{"s":"C4","x":436,"y":-4},{"s":"C4","x":449,"y":-10},{"s":"C4","x":466,"y":-7},{"s":"C4","x":474,"y":-23},{"s":"C4","x":487,"y":-7},{"s":"C4","x":503,"y":-13}
],
"vz":[
{"s":"C1","x":5,"y":-14},{"s":"C1","x":12.7,"y":-9},{"s":"C1","x":21,"y":-12},{"s":"C1","x":29.7,"y":2},{"s":"C1","x":40,"y":13},{"s":"C1","x":49,"y":16},{"s":"C1","x":62,"y":18},{"s":"C1","x":74,"y":8},{"s":"C1","x":85,"y":-9},{"s":"C1","x":96,"y":8},{"s":"C1","x":108,"y":18},{"s":"C1","x":121,"y":20},{"s":"C1","x":130,"y":2},{"s":"C1","x":142.5,"y":-23},{"s":"C1","x":151,"y":-14},{"s":"C1","x":159.5,"y":-35},{"s":"C1","x":172,"y":-14},{"s":"C1","x":185,"y":-9},{"s":"C1","x":198,"y":-1},{"s":"C1","x":206,"y":-14},{"s":"C1","x":215,"y":-16},{"s":"C1","x":228,"y":-3},{"s":"C1","x":236,"y":-9},{"s":"C1","x":249,"y":13},{"s":"C1","x":262,"y":18},{"s":"C1","x":274,"y":13},{"s":"C1","x":287,"y":-3},{"s":"C1","x":300,"y":-14},{"s":"C1","x":308,"y":-25},{"s":"C1","x":315.6,"y":-14},{"s":"C1","x":321,"y":-35},{"s":"C1","x":330,"y":-43},{"s":"C1","x":347,"y":-41},{"s":"C1","x":359.5,"y":-35},{"s":"C1","x":372,"y":-48},{"s":"C1","x":389,"y":-35},{"s":"C1","x":402,"y":-41},{"s":"C1","x":410.5,"y":-57},{"s":"C1","x":419,"y":-41},{"s":"C1","x":440,"y":-38},{"s":"C1","x":457,"y":-41},{"s":"C1","x":474,"y":-55},{"s":"C1","x":487,"y":-41},{"s":"C1","x":503,"y":-38},
{"s":"C4","x":5,"y":-3},{"s":"C4","x":15,"y":10},{"s":"C4","x":27.6,"y":10},{"s":"C4","x":40,"y":18},{"s":"C4","x":57,"y":31},{"s":"C4","x":66,"y":31},{"s":"C4","x":79,"y":18},{"s":"C4","x":91,"y":13},{"s":"C4","x":100,"y":29},{"s":"C4","x":108,"y":24},{"s":"C4","x":125,"y":42},{"s":"C4","x":138,"y":24},{"s":"C4","x":151,"y":24},{"s":"C4","x":159.5,"y":13},{"s":"C4","x":168,"y":18},{"s":"C4","x":176,"y":2},{"s":"C4","x":189,"y":2},{"s":"C4","x":202,"y":-3},{"s":"C4","x":210.5,"y":-12},{"s":"C4","x":223,"y":2},{"s":"C4","x":236,"y":-3},{"s":"C4","x":245,"y":13},{"s":"C4","x":262,"y":16},{"s":"C4","x":274,"y":27},{"s":"C4","x":287,"y":34},{"s":"C4","x":300,"y":31},{"s":"C4","x":308,"y":13},{"s":"C4","x":317,"y":2},{"s":"C4","x":325,"y":8},{"s":"C4","x":334,"y":-14},{"s":"C4","x":347,"y":-33},{"s":"C4","x":359.5,"y":-30},{"s":"C4","x":372,"y":-25},{"s":"C4","x":385,"y":-14},{"s":"C4","x":398,"y":-25},{"s":"C4","x":410.5,"y":-35},{"s":"C4","x":423,"y":-19},{"s":"C4","x":440,"y":-19},{"s":"C4","x":453,"y":-35},{"s":"C4","x":470,"y":-19},{"s":"C4","x":487,"y":-25},{"s":"C4","x":503,"y":-19}
]
},
"vconcat":[
{"height":80,"width":391,
 "layer":[
  {"data":{"name":"bx"},"mark":{"type":"line","clip":true},"encoding":{
   "x":{"field":"x","type":"quantitative","scale":{"domain":[4.6,503.8],"nice":false,"zero":false},"axis":{"orient":"bottom","values":[20,40,60,80,100,120,140,160,180,200,220,240,260,280,300,320,340,360,380,400,420,440,460,480,500],"labels":false,"title":null,"tickSize":{"condition":{"test":"datum.value % 100 === 0","value":-7},"value":-3.5}}},
   "y":{"field":"y","type":"quantitative","scale":{"domain":[-8.5,22],"nice":false,"zero":false},"axis":{"orient":"left","values":[-8,-6,-4,-2,0,2,4,6,8,10,12,14,16,18,20,22],"labelExpr":"indexof([0,10,20], datum.value) >= 0 ? datum.label : ''","tickSize":{"condition":{"test":"indexof([0,10,20], datum.value) >= 0","value":-7},"value":-3.5},"labelPadding":11,"title":"Bx, nT","titleX":-28,"titleY":40}},
   "color":{"field":"s","type":"nominal","scale":{"domain":["C1","C2","C3","C4","Bx","By","Bz","Jx","Jy","Jz","dvB","Cx","Cy","Cz"],"range":["#222222","#f03030","#2ee02e","#3a3ae6","#222222","#f03030","#2ee02e","#222222","#f03030","#2ee02e","#3a3ae6","#222222","#f03030","#2ee02e"]},"legend":null}}},
  {"data":{"name":"vl"},"mark":{"type":"rule","strokeDash":[7,4],"color":"#333","strokeWidth":1.2},"encoding":{"x":{"field":"x","type":"quantitative","axis":null}}},
  {"data":{"values":[{"y":0}]},"mark":{"type":"rule","strokeDash":[8,5],"color":"#333","strokeWidth":1.2},"encoding":{"y":{"field":"y","type":"quantitative","axis":null}}},
  {"data":{"values":[{"t":"t0_1","x":206.3,"y":25.8},{"t":"t0_2","x":315.6,"y":25.8}]},"mark":{"type":"text","align":"center","baseline":"middle","fontSize":13.5,"font":"Liberation Sans","color":"#222"},"encoding":{"x":{"field":"x","type":"quantitative","axis":null},"y":{"field":"y","type":"quantitative","axis":null},"text":{"field":"t"}}},
  {"data":{"name":"bx"},"mark":{"type":"point","opacity":0},"encoding":{
   "x":{"field":"x","type":"quantitative","axis":{"orient":"top","values":[20,40,60,80,100,120,140,160,180,200,220,240,260,280,300,320,340,360,380,400,420,440,460,480,500],"labels":false,"title":null,"tickSize":{"condition":{"test":"datum.value % 100 === 0","value":-7},"value":-3.5}}},
   "y":{"field":"y","type":"quantitative","axis":{"orient":"right","values":[-8,-6,-4,-2,0,2,4,6,8,10,12,14,16,18,20,22],"labels":false,"title":null,"tickSize":{"condition":{"test":"indexof([0,10,20], datum.value) >= 0","value":-7},"value":-3.5}}}}}
 ],
 "resolve":{"axis":{"x":"independent","y":"independent"}}
},
{"height":66,"width":391,
 "layer":[
  {"layer":[
   {"data":{"name":"by"},"mark":{"type":"line","clip":true},"encoding":{
    "x":{"field":"x","type":"quantitative","scale":{"domain":[4.6,503.8],"nice":false,"zero":false},"axis":{"orient":"bottom","values":[20,40,60,80,100,120,140,160,180,200,220,240,260,280,300,320,340,360,380,400,420,440,460,480,500],"labels":false,"title":null,"tickSize":{"condition":{"test":"datum.value % 100 === 0","value":-7},"value":-3.5}}},
    "y":{"field":"y","type":"quantitative","scale":{"domain":[-8,22],"nice":false,"zero":false},"axis":{"orient":"left","values":[-8,-6,-4,-2,0,2,4,6,8,10,12,14,16,18,20,22],"labelExpr":"indexof([0,10,20], datum.value) >= 0 ? datum.label : ''","tickSize":{"condition":{"test":"indexof([0,10,20], datum.value) >= 0","value":-7},"value":-3.5},"labelPadding":11,"title":"By, nT","titleX":-28,"titleY":33}},
    "color":{"field":"s","type":"nominal","scale":{"domain":["C1","C2","C3","C4","Bx","By","Bz","Jx","Jy","Jz","dvB","Cx","Cy","Cz"],"range":["#222222","#f03030","#2ee02e","#3a3ae6","#222222","#f03030","#2ee02e","#222222","#f03030","#2ee02e","#3a3ae6","#222222","#f03030","#2ee02e"]},"legend":null}}},
   {"data":{"name":"vl"},"mark":{"type":"rule","strokeDash":[7,4],"color":"#333","strokeWidth":1.2},"encoding":{"x":{"field":"x","type":"quantitative","axis":null}}},
   {"data":{"name":"txt"},"transform":[{"filter":"datum.p === 'By'"}],"mark":{"type":"text","align":"left","baseline":"middle","fontSize":12,"font":"Liberation Sans"},"encoding":{"x":{"field":"x","type":"quantitative","axis":null},"y":{"field":"y","type":"quantitative","axis":null},"text":{"field":"t"},"color":{"field":"s","type":"nominal","legend":null}}},
   {"data":{"name":"by"},"mark":{"type":"point","opacity":0},"encoding":{
    "x":{"field":"x","type":"quantitative","axis":{"orient":"top","values":[20,40,60,80,100,120,140,160,180,200,220,240,260,280,300,320,340,360,380,400,420,440,460,480,500],"labels":false,"title":null,"tickSize":{"condition":{"test":"datum.value % 100 === 0","value":-7},"value":-3.5}}},
    "y":{"field":"y","type":"quantitative","axis":{"orient":"right","values":[-8,-6,-4,-2,0,2,4,6,8,10,12,14,16,18,20,22],"labels":false,"title":null,"tickSize":{"condition":{"test":"indexof([0,10,20], datum.value) >= 0","value":-7},"value":-3.5}}}}}
  ],
  "resolve":{"axis":{"x":"independent","y":"independent"}}},
  {"layer":[
   {"data":{"values":[{"x1":-2920,"x2":2230,"y1":-3350,"y2":2200}]},"mark":{"type":"rect","fill":"white"},"encoding":{
    "x":{"field":"x1","type":"quantitative","scale":{"domain":[-2000,2000],"range":[301,388],"nice":false,"zero":false},"axis":null},"x2":{"field":"x2"},
    "y":{"field":"y1","type":"quantitative","scale":{"domain":[-2000,2000],"range":[20,-39],"nice":false,"zero":false},"axis":null},"y2":{"field":"y2"}}},
   {"data":{"values":[{"x1":-2000,"x2":2000,"y1":-2000,"y2":2000}]},"mark":{"type":"rect","fill":"white","stroke":"black","strokeWidth":1},"encoding":{
    "x":{"field":"x1","type":"quantitative","axis":null},"x2":{"field":"x2"},
    "y":{"field":"y1","type":"quantitative","axis":null},"y2":{"field":"y2"}}},
   {"data":{"name":"insetlab"},"transform":[{"filter":"datum.k === 'x'"}],"mark":{"type":"text","align":"center","baseline":"top","dy":3,"fontSize":6.5,"fontWeight":"bold","font":"Liberation Sans","color":"black"},"encoding":{
    "x":{"field":"x","type":"quantitative","axis":null},"y":{"field":"y","type":"quantitative","axis":null},"text":{"field":"t"}}},
   {"data":{"name":"insetlab"},"transform":[{"filter":"datum.k === 'y'"}],"mark":{"type":"text","align":"right","baseline":"middle","dx":-2,"fontSize":6.5,"fontWeight":"bold","font":"Liberation Sans","color":"black"},"encoding":{
    "x":{"field":"x","type":"quantitative","axis":null},"y":{"field":"y","type":"quantitative","axis":null},"text":{"field":"t"}}},
   {"data":{"name":"insetlab"},"transform":[{"filter":"datum.k === 'xt'"}],"mark":{"type":"text","align":"center","baseline":"top","dy":12,"fontSize":6.5,"fontWeight":"bold","font":"Liberation Sans","color":"black"},"encoding":{
    "x":{"field":"x","type":"quantitative","axis":null},"y":{"field":"y","type":"quantitative","axis":null},"text":{"field":"t"}}},
   {"data":{"name":"insetlab"},"transform":[{"filter":"datum.k === 'yt'"}],"mark":{"type":"text","align":"center","baseline":"middle","angle":270,"fontSize":6.5,"fontWeight":"bold","font":"Liberation Sans","color":"black"},"encoding":{
    "x":{"field":"x","type":"quantitative","axis":null},"y":{"field":"y","type":"quantitative","axis":null},"text":{"field":"t"}}},
   {"data":{"name":"inset"},"mark":{"type":"square","filled":true,"size":24,"opacity":1},"encoding":{
    "x":{"field":"x","type":"quantitative","axis":null},
    "y":{"field":"y","type":"quantitative","axis":null},
    "color":{"field":"s","type":"nominal","legend":null}}}
  ]}
 ],
 "resolve":{"scale":{"x":"independent","y":"independent"}}
},
{"height":66,"width":391,
 "layer":[
  {"data":{"name":"bz"},"mark":{"type":"line","clip":true},"encoding":{
   "x":{"field":"x","type":"quantitative","scale":{"domain":[4.6,503.8],"nice":false,"zero":false},"axis":{"orient":"bottom","values":[20,40,60,80,100,120,140,160,180,200,220,240,260,280,300,320,340,360,380,400,420,440,460,480,500],"labels":false,"title":null,"tickSize":{"condition":{"test":"datum.value % 100 === 0","value":-7},"value":-3.5}}},
   "y":{"field":"y","type":"quantitative","scale":{"domain":[-8,22],"nice":false,"zero":false},"axis":{"orient":"left","values":[-8,-6,-4,-2,0,2,4,6,8,10,12,14,16,18,20,22],"labelExpr":"indexof([0,10,20], datum.value) >= 0 ? datum.label : ''","tickSize":{"condition":{"test":"indexof([0,10,20], datum.value) >= 0","value":-7},"value":-3.5},"labelPadding":11,"title":"Bz, nT","titleX":-28,"titleY":33}},
   "color":{"field":"s","type":"nominal","scale":{"domain":["C1","C2","C3","C4","Bx","By","Bz","Jx","Jy","Jz","dvB","Cx","Cy","Cz"],"range":["#222222","#f03030","#2ee02e","#3a3ae6","#222222","#f03030","#2ee02e","#222222","#f03030","#2ee02e","#3a3ae6","#222222","#f03030","#2ee02e"]},"legend":null}}},
  {"data":{"name":"vl"},"mark":{"type":"rule","strokeDash":[7,4],"color":"#333","strokeWidth":1.2},"encoding":{"x":{"field":"x","type":"quantitative","axis":null}}},
  {"data":{"name":"bz"},"mark":{"type":"point","opacity":0},"encoding":{
   "x":{"field":"x","type":"quantitative","axis":{"orient":"top","values":[20,40,60,80,100,120,140,160,180,200,220,240,260,280,300,320,340,360,380,400,420,440,460,480,500],"labels":false,"title":null,"tickSize":{"condition":{"test":"datum.value % 100 === 0","value":-7},"value":-3.5}}},
   "y":{"field":"y","type":"quantitative","axis":{"orient":"right","values":[-8,-6,-4,-2,0,2,4,6,8,10,12,14,16,18,20,22],"labels":false,"title":null,"tickSize":{"condition":{"test":"indexof([0,10,20], datum.value) >= 0","value":-7},"value":-3.5}}}}}
 ],
 "resolve":{"axis":{"x":"independent","y":"independent"}}
},
{"height":86,"width":391,
 "layer":[
  {"data":{"name":"bb"},"mark":{"type":"line","clip":true},"encoding":{
   "x":{"field":"x","type":"quantitative","scale":{"domain":[4.6,503.8],"nice":false,"zero":false},"axis":{"orient":"bottom","values":[20,40,60,80,100,120,140,160,180,200,220,240,260,280,300,320,340,360,380,400,420,440,460,480,500],"labels":false,"title":null,"tickSize":{"condition":{"test":"datum.value % 100 === 0","value":-7},"value":-3.5}}},
   "y":{"field":"y","type":"quantitative","scale":{"domain":[-8.5,22],"nice":false,"zero":false},"axis":{"orient":"left","values":[-8,-6,-4,-2,0,2,4,6,8,10,12,14,16,18,20,22],"labelExpr":"indexof([0,10,20], datum.value) >= 0 ? datum.label : ''","tickSize":{"condition":{"test":"indexof([0,10,20], datum.value) >= 0","value":-7},"value":-3.5},"labelPadding":11,"title":"B, nT","titleX":-28,"titleY":43}},
   "color":{"field":"s","type":"nominal","scale":{"domain":["C1","C2","C3","C4","Bx","By","Bz","Jx","Jy","Jz","dvB","Cx","Cy","Cz"],"range":["#222222","#f03030","#2ee02e","#3a3ae6","#222222","#f03030","#2ee02e","#222222","#f03030","#2ee02e","#3a3ae6","#222222","#f03030","#2ee02e"]},"legend":null}}},
  {"data":{"name":"vl"},"mark":{"type":"rule","strokeDash":[7,4],"color":"#333","strokeWidth":1.2},"encoding":{"x":{"field":"x","type":"quantitative","axis":null}}},
  {"data":{"values":[{"y":0}]},"mark":{"type":"rule","strokeDash":[8,5],"color":"#333","strokeWidth":1.2},"encoding":{"y":{"field":"y","type":"quantitative","axis":null}}},
  {"data":{"name":"txt"},"transform":[{"filter":"datum.p === 'B'"}],"mark":{"type":"text","align":"left","baseline":"middle","fontSize":11.5,"font":"Liberation Sans"},"encoding":{"x":{"field":"x","type":"quantitative","axis":null},"y":{"field":"y","type":"quantitative","axis":null},"text":{"field":"t"},"color":{"field":"s","type":"nominal","legend":null}}},
  {"data":{"name":"bb"},"mark":{"type":"point","opacity":0},"encoding":{
   "x":{"field":"x","type":"quantitative","axis":{"orient":"top","values":[20,40,60,80,100,120,140,160,180,200,220,240,260,280,300,320,340,360,380,400,420,440,460,480,500],"labels":false,"title":null,"tickSize":{"condition":{"test":"datum.value % 100 === 0","value":-7},"value":-3.5}}},
   "y":{"field":"y","type":"quantitative","axis":{"orient":"right","values":[-8,-6,-4,-2,0,2,4,6,8,10,12,14,16,18,20,22],"labels":false,"title":null,"tickSize":{"condition":{"test":"indexof([0,10,20], datum.value) >= 0","value":-7},"value":-3.5}}}}}
 ],
 "resolve":{"axis":{"x":"independent","y":"independent"}}
},
{"height":80,"width":391,
 "layer":[
  {"data":{"name":"jj"},"mark":{"type":"line","clip":true},"encoding":{
   "x":{"field":"x","type":"quantitative","scale":{"domain":[4.6,503.8],"nice":false,"zero":false},"axis":{"orient":"bottom","values":[20,40,60,80,100,120,140,160,180,200,220,240,260,280,300,320,340,360,380,400,420,440,460,480,500],"labels":false,"title":null,"tickSize":{"condition":{"test":"datum.value % 100 === 0","value":-7},"value":-3.5}}},
   "y":{"field":"y","type":"quantitative","scale":{"domain":[-11.7,11.7],"nice":false,"zero":false},"axis":{"orient":"left","values":[-11,-10,-9,-8,-7,-6,-5,-4,-3,-2,-1,0,1,2,3,4,5,6,7,8,9,10,11],"labelExpr":"indexof([-10,-5,0,5,10], datum.value) >= 0 ? replace(datum.label, '\u2212', '-') : ''","tickSize":{"condition":{"test":"indexof([-10,-5,0,5,10], datum.value) >= 0","value":-7},"value":-3.5},"labelPadding":11,"title":"J, nA/m/m","titleX":-28,"titleY":40}},
   "color":{"field":"s","type":"nominal","scale":{"domain":["C1","C2","C3","C4","Bx","By","Bz","Jx","Jy","Jz","dvB","Cx","Cy","Cz"],"range":["#222222","#f03030","#2ee02e","#3a3ae6","#222222","#f03030","#2ee02e","#222222","#f03030","#2ee02e","#3a3ae6","#222222","#f03030","#2ee02e"]},"legend":null}}},
  {"data":{"name":"vl"},"mark":{"type":"rule","strokeDash":[7,4],"color":"#333","strokeWidth":1.2},"encoding":{"x":{"field":"x","type":"quantitative","axis":null}}},
  {"data":{"values":[{"y":0}]},"mark":{"type":"rule","strokeDash":[8,5],"color":"#333","strokeWidth":1.2},"encoding":{"y":{"field":"y","type":"quantitative","axis":null}}},
  {"data":{"name":"txt"},"transform":[{"filter":"datum.p === 'J'"}],"mark":{"type":"text","align":"left","baseline":"middle","fontSize":11.5,"font":"Liberation Sans"},"encoding":{"x":{"field":"x","type":"quantitative","axis":null},"y":{"field":"y","type":"quantitative","axis":null},"text":{"field":"t"},"color":{"field":"s","type":"nominal","legend":null}}},
  {"data":{"name":"jj"},"mark":{"type":"point","opacity":0},"encoding":{
   "x":{"field":"x","type":"quantitative","axis":{"orient":"top","values":[20,40,60,80,100,120,140,160,180,200,220,240,260,280,300,320,340,360,380,400,420,440,460,480,500],"labels":false,"title":null,"tickSize":{"condition":{"test":"datum.value % 100 === 0","value":-7},"value":-3.5}}},
   "y":{"field":"y","type":"quantitative","axis":{"orient":"right","values":[-11,-10,-9,-8,-7,-6,-5,-4,-3,-2,-1,0,1,2,3,4,5,6,7,8,9,10,11],"labels":false,"title":null,"tickSize":{"condition":{"test":"indexof([-10,-5,0,5,10], datum.value) >= 0","value":-7},"value":-3.5}}}}}
 ],
 "resolve":{"axis":{"x":"independent","y":"independent"}}
},
{"height":81,"width":391,
 "layer":[
  {"data":{"name":"cc"},"mark":{"type":"line","clip":true},"encoding":{
   "x":{"field":"x","type":"quantitative","scale":{"domain":[4.6,503.8],"nice":false,"zero":false},"axis":{"orient":"bottom","values":[20,40,60,80,100,120,140,160,180,200,220,240,260,280,300,320,340,360,380,400,420,440,460,480,500],"labels":false,"title":null,"tickSize":{"condition":{"test":"datum.value % 100 === 0","value":-7},"value":-3.5}}},
   "y":{"field":"y","type":"quantitative","scale":{"domain":[-0.31,0.75],"nice":false,"zero":false},"axis":{"orient":"left","values":[-0.3,-0.25,-0.2,-0.15,-0.1,-0.05,0,0.05,0.1,0.15,0.2,0.25,0.3,0.35,0.4,0.45,0.5,0.55,0.6,0.65,0.7],"format":".1f","labelExpr":"indexof([-0.2,0,0.2,0.4,0.6], datum.value) >= 0 ? replace(datum.label, '\u2212', '-') : ''","tickSize":{"condition":{"test":"indexof([-0.2,0,0.2,0.4,0.6], datum.value) >= 0","value":-7},"value":-3.5},"labelPadding":11,"title":"C, 1/10^3km","titleX":-28,"titleY":40.5}},
   "color":{"field":"s","type":"nominal","scale":{"domain":["C1","C2","C3","C4","Bx","By","Bz","Jx","Jy","Jz","dvB","Cx","Cy","Cz"],"range":["#222222","#f03030","#2ee02e","#3a3ae6","#222222","#f03030","#2ee02e","#222222","#f03030","#2ee02e","#3a3ae6","#222222","#f03030","#2ee02e"]},"legend":null}}},
  {"data":{"name":"vl"},"mark":{"type":"rule","strokeDash":[7,4],"color":"#333","strokeWidth":1.2},"encoding":{"x":{"field":"x","type":"quantitative","axis":null}}},
  {"data":{"values":[{"y":0}]},"mark":{"type":"rule","strokeDash":[8,5],"color":"#333","strokeWidth":1.2},"encoding":{"y":{"field":"y","type":"quantitative","axis":null}}},
  {"data":{"name":"txt"},"transform":[{"filter":"datum.p === 'C'"}],"mark":{"type":"text","align":"left","baseline":"middle","fontSize":11.5,"font":"Liberation Sans"},"encoding":{"x":{"field":"x","type":"quantitative","axis":null},"y":{"field":"y","type":"quantitative","axis":null},"text":{"field":"t"},"color":{"field":"s","type":"nominal","legend":null}}},
  {"data":{"name":"cc"},"mark":{"type":"point","opacity":0},"encoding":{
   "x":{"field":"x","type":"quantitative","axis":{"orient":"top","values":[20,40,60,80,100,120,140,160,180,200,220,240,260,280,300,320,340,360,380,400,420,440,460,480,500],"labels":false,"title":null,"tickSize":{"condition":{"test":"datum.value % 100 === 0","value":-7},"value":-3.5}}},
   "y":{"field":"y","type":"quantitative","axis":{"orient":"right","values":[-0.3,-0.25,-0.2,-0.15,-0.1,-0.05,0,0.05,0.1,0.15,0.2,0.25,0.3,0.35,0.4,0.45,0.5,0.55,0.6,0.65,0.7],"labels":false,"title":null,"tickSize":{"condition":{"test":"indexof([-0.2,0,0.2,0.4,0.6], datum.value) >= 0","value":-7},"value":-3.5}}}}}
 ],
 "resolve":{"axis":{"x":"independent","y":"independent"}}
},
{"height":69,"width":391,
 "layer":[
  {"data":{"name":"np"},"mark":{"type":"line","clip":true},"encoding":{
   "x":{"field":"x","type":"quantitative","scale":{"domain":[4.6,503.8],"nice":false,"zero":false},"axis":{"orient":"bottom","values":[20,40,60,80,100,120,140,160,180,200,220,240,260,280,300,320,340,360,380,400,420,440,460,480,500],"labels":false,"title":null,"tickSize":{"condition":{"test":"datum.value % 100 === 0","value":-7},"value":-3.5}}},
   "y":{"field":"y","type":"quantitative","scale":{"domain":[1.46,2.05],"nice":false,"zero":false},"axis":{"orient":"left","values":[1.48,1.5,1.52,1.54,1.56,1.58,1.6,1.62,1.64,1.66,1.68,1.7,1.72,1.74,1.76,1.78,1.8,1.82,1.84,1.86,1.88,1.9,1.92,1.94,1.96,1.98,2,2.02,2.04],"format":".2f","labelExpr":"indexof([1.6,1.8,2], datum.value) >= 0 ? datum.label : ''","tickSize":{"condition":{"test":"indexof([1.6,1.8,2], datum.value) >= 0","value":-7},"value":-3.5},"labelPadding":11,"title":"Np, cm^-3","titleX":-28,"titleY":34.5}},
   "color":{"field":"s","type":"nominal","scale":{"domain":["C1","C2","C3","C4","Bx","By","Bz","Jx","Jy","Jz","dvB","Cx","Cy","Cz"],"range":["#222222","#f03030","#2ee02e","#3a3ae6","#222222","#f03030","#2ee02e","#222222","#f03030","#2ee02e","#3a3ae6","#222222","#f03030","#2ee02e"]},"legend":null}}},
  {"data":{"name":"vl"},"mark":{"type":"rule","strokeDash":[7,4],"color":"#333","strokeWidth":1.2},"encoding":{"x":{"field":"x","type":"quantitative","axis":null}}},
  {"data":{"name":"np"},"mark":{"type":"point","opacity":0},"encoding":{
   "x":{"field":"x","type":"quantitative","axis":{"orient":"top","values":[20,40,60,80,100,120,140,160,180,200,220,240,260,280,300,320,340,360,380,400,420,440,460,480,500],"labels":false,"title":null,"tickSize":{"condition":{"test":"datum.value % 100 === 0","value":-7},"value":-3.5}}},
   "y":{"field":"y","type":"quantitative","axis":{"orient":"right","values":[1.48,1.5,1.52,1.54,1.56,1.58,1.6,1.62,1.64,1.66,1.68,1.7,1.72,1.74,1.76,1.78,1.8,1.82,1.84,1.86,1.88,1.9,1.92,1.94,1.96,1.98,2,2.02,2.04],"labels":false,"title":null,"tickSize":{"condition":{"test":"indexof([1.6,1.8,2], datum.value) >= 0","value":-7},"value":-3.5}}}}}
 ],
 "resolve":{"axis":{"x":"independent","y":"independent"}}
},
{"height":67,"width":391,
 "layer":[
  {"data":{"name":"tp"},"mark":{"type":"line","clip":true},"encoding":{
   "x":{"field":"x","type":"quantitative","scale":{"domain":[4.6,503.8],"nice":false,"zero":false},"axis":{"orient":"bottom","values":[20,40,60,80,100,120,140,160,180,200,220,240,260,280,300,320,340,360,380,400,420,440,460,480,500],"labels":false,"title":null,"tickSize":{"condition":{"test":"datum.value % 100 === 0","value":-7},"value":-3.5}}},
   "y":{"field":"y","type":"quantitative","scale":{"domain":[1.79,2.61],"nice":false,"zero":false},"axis":{"orient":"left","values":[1.8,1.85,1.9,1.95,2,2.05,2.1,2.15,2.2,2.25,2.3,2.35,2.4,2.45,2.5,2.55,2.6],"format":".1f","labelExpr":"indexof([2,2.2,2.4], datum.value) >= 0 ? datum.label : ''","tickSize":{"condition":{"test":"indexof([2,2.2,2.4], datum.value) >= 0","value":-7},"value":-3.5},"labelPadding":11,"title":"Tp, keV","titleX":-28,"titleY":33.5}},
   "color":{"field":"s","type":"nominal","scale":{"domain":["C1","C2","C3","C4","Bx","By","Bz","Jx","Jy","Jz","dvB","Cx","Cy","Cz"],"range":["#222222","#f03030","#2ee02e","#3a3ae6","#222222","#f03030","#2ee02e","#222222","#f03030","#2ee02e","#3a3ae6","#222222","#f03030","#2ee02e"]},"legend":null}}},
  {"data":{"name":"vl"},"mark":{"type":"rule","strokeDash":[7,4],"color":"#333","strokeWidth":1.2},"encoding":{"x":{"field":"x","type":"quantitative","axis":null}}},
  {"data":{"name":"tp"},"mark":{"type":"point","opacity":0},"encoding":{
   "x":{"field":"x","type":"quantitative","axis":{"orient":"top","values":[20,40,60,80,100,120,140,160,180,200,220,240,260,280,300,320,340,360,380,400,420,440,460,480,500],"labels":false,"title":null,"tickSize":{"condition":{"test":"datum.value % 100 === 0","value":-7},"value":-3.5}}},
   "y":{"field":"y","type":"quantitative","axis":{"orient":"right","values":[1.8,1.85,1.9,1.95,2,2.05,2.1,2.15,2.2,2.25,2.3,2.35,2.4,2.45,2.5,2.55,2.6],"labels":false,"title":null,"tickSize":{"condition":{"test":"indexof([2,2.2,2.4], datum.value) >= 0","value":-7},"value":-3.5}}}}}
 ],
 "resolve":{"axis":{"x":"independent","y":"independent"}}
},
{"height":66,"width":391,
 "layer":[
  {"data":{"name":"vx"},"mark":{"type":"line","clip":true},"encoding":{
   "x":{"field":"x","type":"quantitative","scale":{"domain":[4.6,503.8],"nice":false,"zero":false},"axis":{"orient":"bottom","values":[20,40,60,80,100,120,140,160,180,200,220,240,260,280,300,320,340,360,380,400,420,440,460,480,500],"labels":false,"title":null,"tickSize":{"condition":{"test":"datum.value % 100 === 0","value":-7},"value":-3.5}}},
   "y":{"field":"y","type":"quantitative","scale":{"domain":[-103,103],"nice":false,"zero":false},"axis":{"orient":"left","values":[-100,-90,-80,-70,-60,-50,-40,-30,-20,-10,0,10,20,30,40,50,60,70,80,90,100],"labelExpr":"indexof([-50,0,50], datum.value) >= 0 ? replace(datum.label, '\u2212', '-') : ''","tickSize":{"condition":{"test":"indexof([-50,0,50], datum.value) >= 0","value":-7},"value":-3.5},"labelPadding":11,"title":"Vx, km/s","titleX":-28,"titleY":33}},
   "color":{"field":"s","type":"nominal","scale":{"domain":["C1","C2","C3","C4","Bx","By","Bz","Jx","Jy","Jz","dvB","Cx","Cy","Cz"],"range":["#222222","#f03030","#2ee02e","#3a3ae6","#222222","#f03030","#2ee02e","#222222","#f03030","#2ee02e","#3a3ae6","#222222","#f03030","#2ee02e"]},"legend":null}}},
  {"data":{"name":"vl"},"mark":{"type":"rule","strokeDash":[7,4],"color":"#333","strokeWidth":1.2},"encoding":{"x":{"field":"x","type":"quantitative","axis":null}}},
  {"data":{"values":[{"y":0}]},"mark":{"type":"rule","strokeDash":[8,5],"color":"#333","strokeWidth":1.2},"encoding":{"y":{"field":"y","type":"quantitative","axis":null}}},
  {"data":{"name":"vx"},"mark":{"type":"point","opacity":0},"encoding":{
   "x":{"field":"x","type":"quantitative","axis":{"orient":"top","values":[20,40,60,80,100,120,140,160,180,200,220,240,260,280,300,320,340,360,380,400,420,440,460,480,500],"labels":false,"title":null,"tickSize":{"condition":{"test":"datum.value % 100 === 0","value":-7},"value":-3.5}}},
   "y":{"field":"y","type":"quantitative","axis":{"orient":"right","values":[-100,-90,-80,-70,-60,-50,-40,-30,-20,-10,0,10,20,30,40,50,60,70,80,90,100],"labels":false,"title":null,"tickSize":{"condition":{"test":"indexof([-50,0,50], datum.value) >= 0","value":-7},"value":-3.5}}}}}
 ],
 "resolve":{"axis":{"x":"independent","y":"independent"}}
},
{"height":66,"width":391,
 "layer":[
  {"data":{"name":"vy"},"mark":{"type":"line","clip":true},"encoding":{
   "x":{"field":"x","type":"quantitative","scale":{"domain":[4.6,503.8],"nice":false,"zero":false},"axis":{"orient":"bottom","values":[20,40,60,80,100,120,140,160,180,200,220,240,260,280,300,320,340,360,380,400,420,440,460,480,500],"labels":false,"title":null,"tickSize":{"condition":{"test":"datum.value % 100 === 0","value":-7},"value":-3.5}}},
   "y":{"field":"y","type":"quantitative","scale":{"domain":[-103,103],"nice":false,"zero":false},"axis":{"orient":"left","values":[-100,-90,-80,-70,-60,-50,-40,-30,-20,-10,0,10,20,30,40,50,60,70,80,90,100],"labelExpr":"indexof([-50,0,50], datum.value) >= 0 ? replace(datum.label, '\u2212', '-') : ''","tickSize":{"condition":{"test":"indexof([-50,0,50], datum.value) >= 0","value":-7},"value":-3.5},"labelPadding":11,"title":"Vy, km/s","titleX":-28,"titleY":33}},
   "color":{"field":"s","type":"nominal","scale":{"domain":["C1","C2","C3","C4","Bx","By","Bz","Jx","Jy","Jz","dvB","Cx","Cy","Cz"],"range":["#222222","#f03030","#2ee02e","#3a3ae6","#222222","#f03030","#2ee02e","#222222","#f03030","#2ee02e","#3a3ae6","#222222","#f03030","#2ee02e"]},"legend":null}}},
  {"data":{"name":"vl"},"mark":{"type":"rule","strokeDash":[7,4],"color":"#333","strokeWidth":1.2},"encoding":{"x":{"field":"x","type":"quantitative","axis":null}}},
  {"data":{"values":[{"y":0}]},"mark":{"type":"rule","strokeDash":[8,5],"color":"#333","strokeWidth":1.2},"encoding":{"y":{"field":"y","type":"quantitative","axis":null}}},
  {"data":{"name":"vy"},"mark":{"type":"point","opacity":0},"encoding":{
   "x":{"field":"x","type":"quantitative","axis":{"orient":"top","values":[20,40,60,80,100,120,140,160,180,200,220,240,260,280,300,320,340,360,380,400,420,440,460,480,500],"labels":false,"title":null,"tickSize":{"condition":{"test":"datum.value % 100 === 0","value":-7},"value":-3.5}}},
   "y":{"field":"y","type":"quantitative","axis":{"orient":"right","values":[-100,-90,-80,-70,-60,-50,-40,-30,-20,-10,0,10,20,30,40,50,60,70,80,90,100],"labels":false,"title":null,"tickSize":{"condition":{"test":"indexof([-50,0,50], datum.value) >= 0","value":-7},"value":-3.5}}}}}
 ],
 "resolve":{"axis":{"x":"independent","y":"independent"}}
},
{"height":66,"width":391,
 "layer":[
  {"data":{"name":"vz"},"mark":{"type":"line","clip":true},"encoding":{
   "x":{"field":"x","type":"quantitative","scale":{"domain":[4.6,503.8],"nice":false,"zero":false},"axis":{"orient":"bottom","values":[20,40,60,80,100,120,140,160,180,200,220,240,260,280,300,320,340,360,380,400,420,440,460,480,500],"labelExpr":"datum.value % 100 === 0 ? datum.label : ''","labelPadding":15,"title":null,"tickSize":{"condition":{"test":"datum.value % 100 === 0","value":-7},"value":-3.5}}},
   "y":{"field":"y","type":"quantitative","scale":{"domain":[-103,103],"nice":false,"zero":false},"axis":{"orient":"left","values":[-100,-90,-80,-70,-60,-50,-40,-30,-20,-10,0,10,20,30,40,50,60,70,80,90,100],"labelExpr":"indexof([-50,0,50], datum.value) >= 0 ? replace(datum.label, '\u2212', '-') : ''","tickSize":{"condition":{"test":"indexof([-50,0,50], datum.value) >= 0","value":-7},"value":-3.5},"labelPadding":11,"title":"Vz, km/s","titleX":-28,"titleY":33}},
   "color":{"field":"s","type":"nominal","scale":{"domain":["C1","C2","C3","C4","Bx","By","Bz","Jx","Jy","Jz","dvB","Cx","Cy","Cz"],"range":["#222222","#f03030","#2ee02e","#3a3ae6","#222222","#f03030","#2ee02e","#222222","#f03030","#2ee02e","#3a3ae6","#222222","#f03030","#2ee02e"]},"legend":null}}},
  {"data":{"name":"vl"},"mark":{"type":"rule","strokeDash":[7,4],"color":"#333","strokeWidth":1.2},"encoding":{"x":{"field":"x","type":"quantitative","axis":null}}},
  {"data":{"values":[{"y":0}]},"mark":{"type":"rule","strokeDash":[8,5],"color":"#333","strokeWidth":1.2},"encoding":{"y":{"field":"y","type":"quantitative","axis":null}}},
  {"data":{"name":"vz"},"mark":{"type":"point","opacity":0},"encoding":{
   "x":{"field":"x","type":"quantitative","axis":{"orient":"top","values":[20,40,60,80,100,120,140,160,180,200,220,240,260,280,300,320,340,360,380,400,420,440,460,480,500],"labels":false,"title":null,"tickSize":{"condition":{"test":"datum.value % 100 === 0","value":-7},"value":-3.5}}},
   "y":{"field":"y","type":"quantitative","axis":{"orient":"right","values":[-100,-90,-80,-70,-60,-50,-40,-30,-20,-10,0,10,20,30,40,50,60,70,80,90,100],"labels":false,"title":null,"tickSize":{"condition":{"test":"indexof([-50,0,50], datum.value) >= 0","value":-7},"value":-3.5}}}}}
 ],
 "resolve":{"axis":{"x":"independent","y":"independent"}}
}
]
}
